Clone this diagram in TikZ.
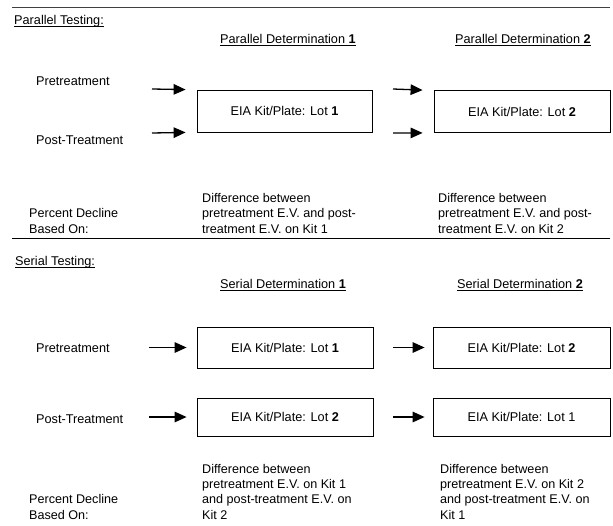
\documentclass[tikz,border=0pt]{standalone}
\usepackage{fontspec}
\setmainfont{Liberation Sans}
\usetikzlibrary{arrows.meta}
\newcommand{\ulx}[1]{{\setbox0\hbox{#1}\rlap{\rule[-3pt]{\wd0}{0.7pt}}\box0}}
\begin{document}
\begin{tikzpicture}[x=1pt,y=-1pt,
  txt/.style={inner sep=0pt, anchor=base west, font=\fontsize{12.7}{15.3}\selectfont},
  blk/.style={inner sep=0pt, anchor=base west, align=left, font=\fontsize{12.6}{15.3}\selectfont},
  kit/.style={draw, line width=0.8pt, inner sep=0pt, font=\fontsize{12.7}{15.3}\selectfont},
  arr/.style={line width=1.3pt, -{Triangle[length=12pt,width=10.5pt]}},
  rulethin/.style={line width=0.7pt, black!75},
  rulethick/.style={line width=1.4pt, black}]
\useasboundingbox (0,0) rectangle (613,525);

% rules
\coordinate (r1a) at (12,7); \coordinate (r1b) at (610,7);
\coordinate (r2a) at (12,238.5); \coordinate (r2b) at (610,238.5);
\draw[rulethin] (r1a) -- (r1b);
\draw[rulethick] (r2a) -- (r2b);

% ---------- Parallel testing ----------
\node[txt] (ptitle) at (14,24) {\ulx{Parallel Testing:}};
\node[txt] (pd1) at (220,43) {\ulx{Parallel Determination \textbf{1}}};
\node[txt] (pd2) at (455,43) {\ulx{Parallel Determination \textbf{2}}};
\node[txt] (ppre) at (36,85) {Pretreatment};
\node[txt] (ppost) at (36,144) {Post-Treatment};

\node[kit, minimum width=175pt, minimum height=42pt] (pb1) at (284.5,111) {EIA Kit/Plate: Lot \textbf{1}};
\node[kit, minimum width=176pt, minimum height=42pt] (pb2) at (522,111.5) {EIA Kit/Plate: Lot \textbf{2}};

\coordinate (pa1) at (152,89);
\coordinate (pa2) at (152,133);
\coordinate (pa3) at (393,89);
\coordinate (pa4) at (393,133);
\draw[arr] (pa1) -- ([xshift=-11pt]pb1.north west);
\draw[arr] (pa2) -- ([xshift=-11pt]pb1.south west);
\draw[arr] (pa3) -- ([xshift=-11pt]pb2.north west);
\draw[arr] (pa4) -- ([xshift=-11pt]pb2.south west);

\node[blk] (ppct) at (29,233) {Percent Decline\\Based On:};
\node[blk] (pdf1) at (202,233) {Difference between\\pretreatment E.V. and post-\\treatment E.V. on Kit 1};
\node[blk] (pdf2) at (438,233) {Difference between\\pretreatment E.V. and post-\\treatment E.V. on Kit 2};

% ---------- Serial testing ----------
\node[txt] (stitle) at (15,265) {\ulx{Serial Testing:}};
\node[txt] (sd1) at (220,288) {\ulx{Serial Determination \textbf{1}}};
\node[txt] (sd2) at (457,288) {\ulx{Serial Determination \textbf{2}}};
\node[txt] (spre) at (36,352) {Pretreatment};
\node[txt] (spost) at (36,423) {Post-Treatment};

\node[kit, minimum width=176pt, minimum height=41pt] (sb1) at (285,347.5) {EIA Kit/Plate: Lot \textbf{1}};
\node[kit, minimum width=177pt, minimum height=41pt] (sb2) at (521.5,347.5) {EIA Kit/Plate: Lot \textbf{2}};
\node[kit, minimum width=176pt, minimum height=38pt] (sb3) at (285,417) {EIA Kit/Plate: Lot \textbf{2}};
\node[kit, minimum width=177pt, minimum height=38pt] (sb4) at (521.5,417) {EIA Kit/Plate: Lot 1};

\coordinate (sa1) at (149,347.5);
\coordinate (sa2) at (393,347.5);
\coordinate (sa3) at (149,417);
\coordinate (sa4) at (393,417);
\draw[arr] (sa1) -- ([xshift=-10pt]sb1.west);
\draw[arr] (sa2) -- ([xshift=-8pt]sb2.west);
\draw[arr] (sa3) -- ([xshift=-10pt]sb3.west);
\draw[arr] (sa4) -- ([xshift=-8pt]sb4.west);

\node[blk] (spct) at (29,519) {Percent Decline\\Based On:};
\node[blk] (sdf1) at (202,519) {Difference between\\pretreatment E.V. on Kit 1\\and post-treatment E.V. on\\Kit 2};
\node[blk] (sdf2) at (440,519) {Difference between\\pretreatment E.V. on Kit 2\\and post-treatment E.V. on\\Kit 1};
\end{tikzpicture}
\end{document}
